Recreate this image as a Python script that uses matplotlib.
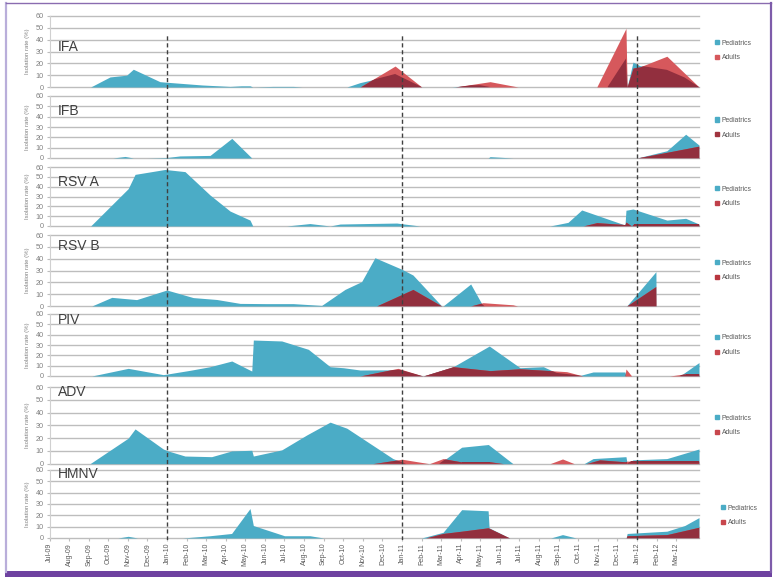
import matplotlib
matplotlib.use("Agg")
import matplotlib.pyplot as plt
from matplotlib.patches import Patch, Rectangle
from matplotlib.lines import Line2D

plt.rcParams['font.family'] = ['Liberation Sans', 'DejaVu Sans']

# ---------------- data (x = months since Jul-09, y = isolation rate %) -------------
months = ["Jul-09", "Aug-09", "Sep-09", "Oct-09", "Nov-09", "Dec-09", "Jan-10", "Feb-10",
          "Mar-10", "Apr-10", "May-10", "Jun-10", "Jul-10", "Aug-10", "Sep-10", "Oct-10",
          "Nov-10", "Dec-10", "Jan-11", "Feb-11", "Mar-11", "Apr-11", "May-11", "Jun-11",
          "Jul-11", "Aug-11", "Sep-11", "Oct-11", "Nov-11", "Dec-11", "Jan-12", "Feb-12",
          "Mar-12"]
season_marks = [6, 18, 30]
series_names = ["Pediatrics", "Adults"]
panels = ["IFA", "IFB", "RSV A", "RSV B", "PIV", "ADV", "HMNV"]

ifa_ped_x = [2.10, 3.09, 3.94, 4.28, 5.64, 6.00, 7.8, 9.22, 9.8, 10.24, 10.38, 11.41, 12.45, 12.9,
             15.19, 15.86, 16.73, 17.65, 19.01, 20.56, 21.48, 22.0, 22.5, 28.5, 29.44, 29.50,
             29.80, 30.15, 31.53, 32.44, 33.17]
ifa_ped_y = [0, 8.5, 10, 15, 4.5, 4, 1.7, 0.5, 1, 1, 0, 0.5, 0.5, 0,
             0, 3.7, 7, 11, 0, 0, 1.5, 1.5, 0, 0, 24, 0,
             21, 18, 14.5, 8, 0]
ifa_adu_x = [15.86, 17.65, 19.01, 20.7, 22.50, 23.93, 27.95, 29.44, 29.50, 29.80, 30.15, 31.53, 33.17]
ifa_adu_y = [0, 17.7, 0, 0, 4.5, 0, 0, 49.5, 0, 16, 17, 26, 0]

ifb_ped_x = [3.24, 3.86, 4.28, 5.0, 6.0, 6.66, 8.20, 9.31, 10.33, 22.4, 22.5, 23.67, 30.0, 31.53,
             32.49, 33.17]
ifb_ped_y = [0, 1.5, 0, 0, 0.5, 2, 2.5, 19, 0, 0, 1.3, 0, 0, 7, 23, 12.5]
ifb_adu_x = [30.0, 31.53, 33.17]
ifb_adu_y = [0, 5.5, 11.5]

rsva_ped_x = [2.10, 4.02, 4.37, 5.90, 6.92, 8.20, 9.22, 10.24, 10.38, 12.11, 13.30, 14.33, 14.84,
              16.20, 17.73, 18.92, 25.56, 26.48, 27.18, 29.39, 29.44, 29.80, 31.53, 32.49, 33.17]
rsva_ped_y = [0, 38, 52.5, 57.5, 55.3, 31.5, 15.2, 6, 0, 0, 2.5, 0, 2,
              2.5, 3, 0, 0, 3.7, 16.3, 1, 16, 17.3, 6, 7.8, 2]
rsva_adu_x = [27.25, 27.95, 29.39, 29.44, 29.73, 29.80, 33.17]
rsva_adu_y = [0, 3.4, 1.5, 4, 0, 1.7, 1.7]

rsvb_ped_x = [2.16, 3.18, 4.45, 5.99, 7.34, 8.54, 9.73, 11.09, 12.45, 13.90, 15.09, 15.94, 16.62,
              18.00, 18.56, 20.03, 20.10, 21.51, 22.07, 22.2, 29.48, 30.97, 30.98]
rsvb_ped_y = [0, 7.3, 5.4, 13.5, 7.1, 5.5, 2.2, 2, 2, 0.5, 14, 20.6, 40.8,
              31, 26.2, 0, 0, 18.6, 2, 0, 0, 29, 0]
rsvb_adu_x = [16.7, 18.56, 20.03, 21.5, 22.14, 23.67, 23.9, 29.48, 30.97, 30.98]
rsvb_adu_y = [0, 14, 0, 0, 2.8, 1, 0, 0, 16.5, 0]

piv_ped_x = [2.16, 4.02, 5.81, 6.05, 7.18, 8.20, 9.31, 10.33, 10.41, 11.86, 13.22, 14.33, 15.01,
             15.86, 17.90, 19.08, 20.62, 22.46, 24.03, 25.22, 25.90, 27.09, 27.76, 29.39, 29.44,
             32.19, 33.17]
piv_ped_y = [0, 7.4, 1.3, 2, 5.5, 9, 14.5, 4.8, 34.8, 33.9, 25.8, 9, 8,
             5.8, 6, 0, 9, 29, 8, 9, 3, 0.5, 3.9, 3.9, 0,
             0, 13]
piv_adu_x = [15.86, 17.80, 19.08, 20.62, 22.50, 24.03, 26.41, 27.25, 29.39, 29.44, 29.73, 31.68,
             32.44, 33.17]
piv_adu_y = [0, 7.4, 0, 9, 5.2, 7, 4.2, 0, 0, 6.8, 0, 0, 2, 2]

adv_ped_x = [2.07, 4.02, 4.37, 5.81, 6.05, 6.92, 8.28, 9.31, 10.33, 10.41, 11.86, 13.14, 14.33,
             15.18, 17.54, 18.2, 19.9, 21.05, 22.41, 23.67, 27.3, 27.76, 29.44, 29.50, 29.80,
             31.53, 33.17]
adv_ped_y = [0, 20, 27.2, 11.5, 10, 6, 5.5, 10, 10.5, 6, 10.8, 22.5, 32.5,
             27.8, 4, 0, 0, 12.9, 15, 0, 0, 4, 5.5, 0, 3,
             4, 11.5]
adv_adu_x = [16.5, 18.0, 19.4, 20.1, 21.0, 22.5, 23.2, 25.56, 26.2, 26.8, 27.4, 28.1, 29.39,
             29.50, 33.17]
adv_adu_y = [0, 3.5, 0, 4, 1.5, 1.5, 0, 0, 3.7, 0, 0, 3, 1.5, 2, 2]

hmnv_ped_x = [3.5, 4.02, 4.5, 6.8, 8.2, 9.3, 10.24, 10.41, 12.0, 13.3, 14.0, 19.0, 20.1, 21.05,
              22.4, 22.45, 23.5, 25.6, 26.2, 26.9, 29.45, 29.50, 31.53, 32.44, 33.17]
hmnv_ped_y = [0, 1.5, 0, 0, 2, 4, 26, 11, 2, 2, 0, 0, 5, 25,
              24, 9, 0, 0, 3, 0, 0, 4, 6, 11, 18]
hmnv_adu_x = [19.2, 20.1, 21.05, 22.4, 23.5, 29.45, 29.5, 31.53, 33.17]
hmnv_adu_y = [0, 4, 6, 9, 0, 0, 2, 3, 9.5]

ped_x = [ifa_ped_x, ifb_ped_x, rsva_ped_x, rsvb_ped_x, piv_ped_x, adv_ped_x, hmnv_ped_x]
ped_y = [ifa_ped_y, ifb_ped_y, rsva_ped_y, rsvb_ped_y, piv_ped_y, adv_ped_y, hmnv_ped_y]
adu_x = [ifa_adu_x, ifb_adu_x, rsva_adu_x, rsvb_adu_x, piv_adu_x, adv_adu_x, hmnv_adu_x]
adu_y = [ifa_adu_y, ifb_adu_y, rsva_adu_y, rsvb_adu_y, piv_adu_y, adv_adu_y, hmnv_adu_y]

# ---------------- style / layout --------------------------------------------------
W, H = 777, 580
TEAL = "#4BACC6"
RED = "#D6585C"
MAROON = "#922F3E"
legend_red = ["#D6585C", "#A0343F", "#C0404A", "#B8363F", "#C8474D", "#C8474D", "#C8474D"]
# (top px of 60 line, bottom px of 0 line)
rows = [(16, 87), (96, 158), (167, 226), (235, 306), (314, 376), (387, 463.7), (470, 538)]
title_y = [0.56, 0.76, 0.75, 0.845, 0.90, 0.93, 0.94]
legend_y = [50.5, 127.7, 196.5, 270.5, 345.3, 425.5, 515.5]
legend_x = [715, 715, 715, 715, 715, 715, 721]
LEFT, RIGHT = 49.5, 699.0
XMIN, XMAX = 0.0, 33.17

fig = plt.figure(figsize=(W / 100, H / 100), dpi=100)


def frac_rect(l, t, r, b):
    return [l / W, 1 - b / H, (r - l) / W, (b - t) / H]


for i, name in enumerate(panels):
    top, bot = rows[i]
    ax = fig.add_axes(frac_rect(LEFT, top, RIGHT, bot))
    ax.set_xlim(XMIN, XMAX)
    ax.set_ylim(0, 60)
    ax.set_yticks(range(0, 61, 10))
    ax.grid(axis='y', color="#BDBDBD", lw=1.0)
    for gl in ax.get_ygridlines():
        gl.set_clip_on(False)
    ax.set_axisbelow(True)
    for s in ["top", "right", "bottom"]:
        ax.spines[s].set_visible(False)
    ax.spines["left"].set_color("#D0D0D0")
    ax.spines["left"].set_linewidth(0.8)
    ax.tick_params(axis='y', labelsize=5.2, labelcolor="#808080", color="#BDBDBD",
                   length=2.5, width=0.8, pad=1.5)

    teal = ax.fill_between(ped_x[i], ped_y[i], 0, color=TEAL, lw=0, zorder=2)
    ax.fill_between(adu_x[i], adu_y[i], 0, color=RED, lw=0, zorder=3)
    dark = ax.fill_between(adu_x[i], adu_y[i], 0, color=MAROON, lw=0, zorder=4)
    dark.set_clip_path(teal.get_paths()[0], ax.transData)

    ax.set_ylabel("Isolation rate (%)", fontsize=4.3, color="#808080")
    ax.yaxis.set_label_coords(-20 / (RIGHT - LEFT), 0.5)
    ax.text(8 / (RIGHT - LEFT), title_y[i], name, transform=ax.transAxes,
            fontsize=10, color="#404040", va='center', ha='left')

    handles = [Patch(color=TEAL, label=series_names[0]),
               Patch(color=legend_red[i], label=series_names[1])]
    ax.legend(handles=handles, loc='center left',
              bbox_to_anchor=(legend_x[i] / W, 1 - legend_y[i] / H),
              bbox_transform=fig.transFigure, frameon=False, fontsize=4.9,
              labelcolor="#595959", handlelength=0.65, handleheight=0.65,
              handletextpad=0.35, labelspacing=1.15, borderpad=0, borderaxespad=0)

    if i == len(panels) - 1:
        ax.set_xticks(range(len(months)))
        ax.set_xticklabels(months, rotation=90, fontsize=5, color="#595959")
        ax.tick_params(axis='x', length=2, color="#BDBDBD", pad=1.5)
    else:
        ax.set_xticks([])

# dashed season separators spanning all panels
ov = fig.add_axes(frac_rect(LEFT, 35, RIGHT, 540))
ov.set_xlim(XMIN, XMAX)
ov.set_ylim(0, 1)
ov.patch.set_alpha(0)
ov.axis('off')
for m in season_marks:
    ov.axvline(m, color="#404040", lw=1.0, ls=(0, (3, 2)))

# frame around the figure
fig.add_artist(Line2D([6 / W, 6 / W], [1 - 572 / H, 1 - 3 / H], color="#B9AEDA", lw=1.6))
fig.add_artist(Line2D([6 / W, 770.5 / W], [1 - 3 / H, 1 - 3 / H], color="#8A6CB0", lw=1.0))
fig.add_artist(Line2D([770.5 / W, 770.5 / W], [1 - 572 / H, 1 - 3 / H], color="#7E5CAA", lw=1.6))
fig.add_artist(Rectangle((5 / W, 1 - 577 / H), 767 / W, 6 / H, transform=fig.transFigure,
                         color="#6E42A0", lw=0))

fig.savefig("out.png", dpi=100)
